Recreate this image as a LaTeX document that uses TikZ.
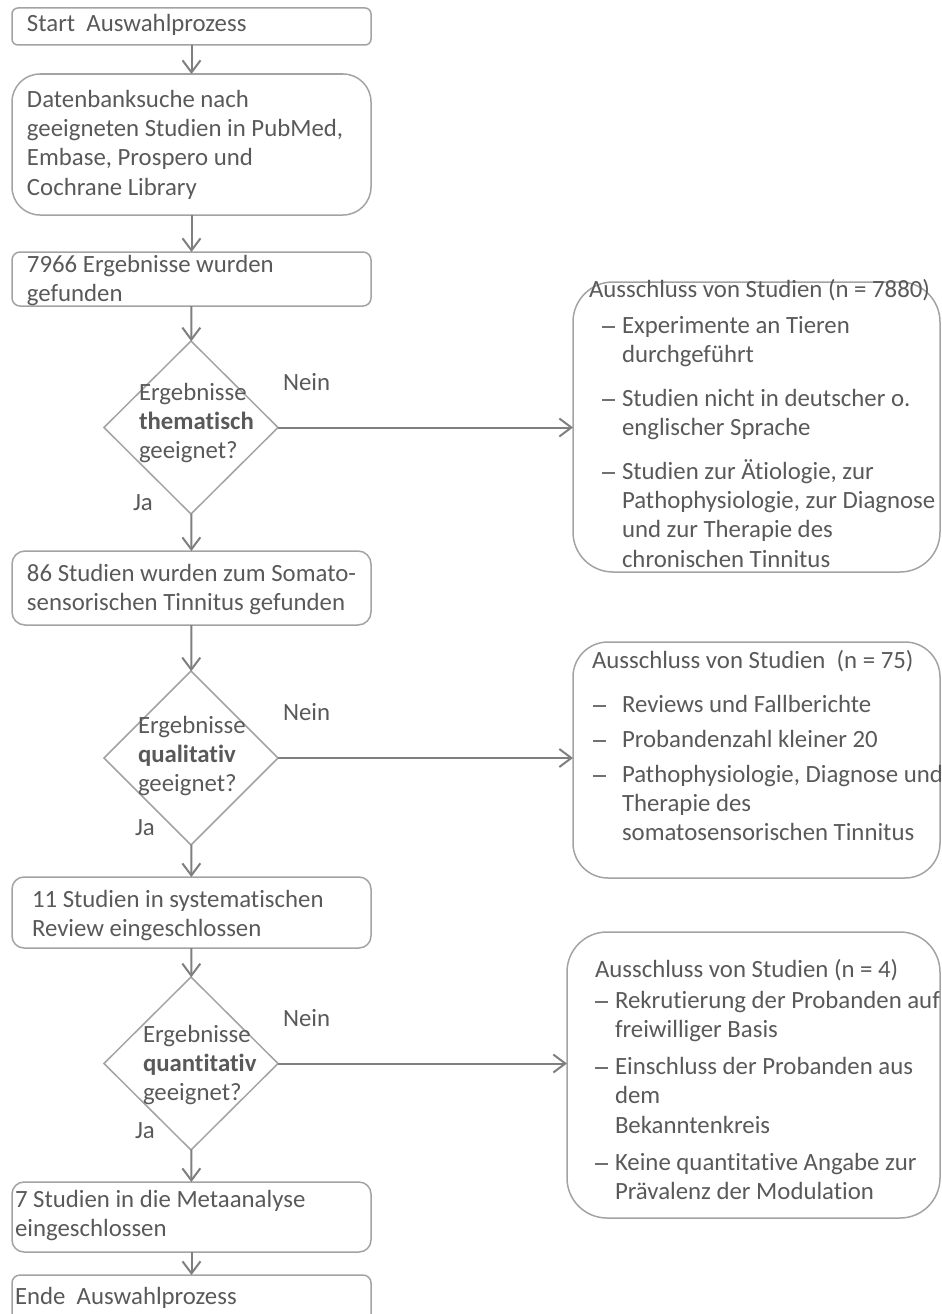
\documentclass[tikz,border=0pt]{standalone}
\usepackage{fontspec}
\setmainfont{Carlito}[Ligatures=NoCommon]
\usetikzlibrary{shapes.geometric,arrows.meta}
\definecolor{txtgray}{HTML}{595959}
\definecolor{edgegray}{HTML}{A3A3A3}
\definecolor{conngray}{HTML}{7F7F7F}
\definecolor{dashgray}{HTML}{707070}
\newcommand{\dsh}[1]{\makebox[#1][l]{\textcolor{dashgray}{\rule[5.5pt]{12.5pt}{1.5pt}}}}
\begin{document}
\begin{tikzpicture}[x=1pt,y=-1pt,
  box/.style={draw=edgegray, line width=1.5pt, rectangle, inner sep=0pt, outer sep=0pt, minimum width=359pt},
  dia/.style={draw=edgegray, line width=1.5pt, diamond, inner sep=0pt, outer sep=0pt, minimum width=174pt, minimum height=173pt},
  rbox/.style={draw=edgegray, line width=1.5pt, rectangle, inner sep=0pt, outer sep=0pt},
  lbl/.style={anchor=base west, inner sep=0pt, outer sep=0pt, text=txtgray, font=\fontsize{24.8}{29.4}\selectfont},
  conn/.style={draw=conngray, line width=2pt, -{Straight Barb[length=12pt,width=18pt]}}
]
\useasboundingbox (0,0) rectangle (942,1314);
\clip (0,0) rectangle (942,1314);

% left column boxes
\node[box, rounded corners=6pt,  minimum height=37pt]  (b1) at (191.5,26.5) {};
\node[box, rounded corners=28pt, minimum height=141pt] (b2) at (191.5,144.5) {};
\node[box, rounded corners=8pt,  minimum height=54pt]  (b3) at (191.5,279) {};
\node[dia] (d1) at (191,427.5) {};
\node[box, rounded corners=13pt, minimum height=74pt]  (b4) at (191.5,588) {};
\node[dia, minimum height=174pt] (d2) at (191,758) {};
\node[box, rounded corners=12pt, minimum height=71pt]  (b5) at (191.5,912.5) {};
\node[dia] (d3) at (191,1063.5) {};
\node[box, rounded corners=12pt, minimum height=70pt]  (b6) at (191.5,1217) {};
\node[box, rounded corners=8pt,  minimum height=65pt]  (b7) at (191.5,1307.5) {};

% right boxes
\node[rbox, rounded corners=40pt, minimum width=367pt, minimum height=290pt] (r1) at (756.5,427) {};
\node[rbox, rounded corners=35pt, minimum width=367pt, minimum height=236pt] (r2) at (756.5,760) {};
\node[rbox, rounded corners=40pt, minimum width=373pt, minimum height=286pt] (r3) at (753.5,1075) {};

% texts
\node[lbl] (t1) at (27,32) {Start~~Auswahlprozess};
\node[lbl] (t2) at (27,107) {\parbox[t]{340pt}{Datenbanksuche nach\\geeigneten Studien in PubMed,\\Embase, Prospero und\\Cochrane Library}};
\node[lbl] (t3) at (27,272) {\parbox[t]{340pt}{7966 Ergebnisse wurden\\gefunden}};
\node[lbl] (q1) at (139,400) {\parbox[t]{200pt}{Ergebnisse\\\textbf{thematisch}\\geeignet?}};
\node[lbl] (t4) at (27,581) {\parbox[t]{340pt}{86 Studien wurden zum Somato-\\sensorischen Tinnitus gefunden}};
\node[lbl] (q2) at (138,733) {\parbox[t]{200pt}{Ergebnisse\\\textbf{qualitativ}\\geeignet?}};
\node[lbl] (t5) at (32,907) {\parbox[t]{340pt}{11 Studien in systematischen\\Review eingeschlossen}};
\node[lbl] (q3) at (143,1042) {\parbox[t]{200pt}{Ergebnisse\\\textbf{quantitativ}\\geeignet?}};
\node[lbl] (t6) at (15,1207) {\parbox[t]{340pt}{7 Studien in die Metaanalyse\\eingeschlossen}};
\node[lbl] (t7) at (15,1304) {Ende~~Auswahlprozess};

\node[lbl] (n1) at (283,390) {Nein};
\node[lbl] (n2) at (283,720) {Nein};
\node[lbl] (n3) at (283,1026) {Nein};
\node[lbl] (j1) at (133,510) {Ja};
\node[lbl] (j2) at (135,835) {Ja};
\node[lbl] (j3) at (135,1138) {Ja};

\node[lbl] (x1) at (589,297) {\parbox[t]{400pt}{Ausschluss von Studien (n = 7880)\\[7pt]
\hspace*{13pt}\dsh{20pt}Experimente an Tieren\\
\hspace*{33pt}durchgeführt\\[14pt]
\hspace*{13pt}\dsh{20pt}Studien nicht in deutscher o.\\
\hspace*{33pt}englischer Sprache\\[14pt]
\hspace*{13pt}\dsh{20pt}Studien zur Ätiologie, zur\\
\hspace*{33pt}Pathophysiologie, zur Diagnose\\
\hspace*{33pt}und zur Therapie des\\
\hspace*{33pt}chronischen Tinnitus}};

\node[lbl] (x2) at (592,668) {\parbox[t]{400pt}{Ausschluss von Studien~~(n = 75)\\[14.6pt]
\hspace*{1pt}\dsh{29pt}Reviews und Fallberichte\\[5.6pt]
\hspace*{1pt}\dsh{29pt}Probandenzahl kleiner 20\\[5.6pt]
\hspace*{1pt}\dsh{29pt}Pathophysiologie, Diagnose und\\
\hspace*{30pt}Therapie des\\
\hspace*{30pt}somatosensorischen Tinnitus}};

\node[lbl] (x3) at (595,977) {\parbox[t]{400pt}{Ausschluss von Studien (n = 4)\\[1.6pt]
\dsh{20pt}Rekrutierung der Probanden auf\\
\hspace*{20pt}freiwilliger Basis\\[7.6pt]
\dsh{20pt}Einschluss der Probanden aus\\
\hspace*{20pt}dem\\
\hspace*{20pt}Bekanntenkreis\\[7.6pt]
\dsh{20pt}Keine quantitative Angabe zur\\
\hspace*{20pt}Prävalenz der Modulation}};

% connectors
\draw[conn] (b1) -- (b2);
\draw[conn] (b2) -- (b3);
\draw[conn] (b3) -- (d1);
\draw[conn] (d1) -- (b4);
\draw[conn] (b4) -- (d2);
\draw[conn] (d2) -- (b5);
\draw[conn] (b5) -- (d3);
\draw[conn] (d3) -- (b6);
\draw[conn] (b6) -- (b7);
\draw[conn] (d1.east) -- (d1.east -| r1.west);
\draw[conn] (d2.east) -- (d2.east -| r2.west);
\draw[conn] (d3.east) -- (d3.east -| r3.west);
\end{tikzpicture}
\end{document}
